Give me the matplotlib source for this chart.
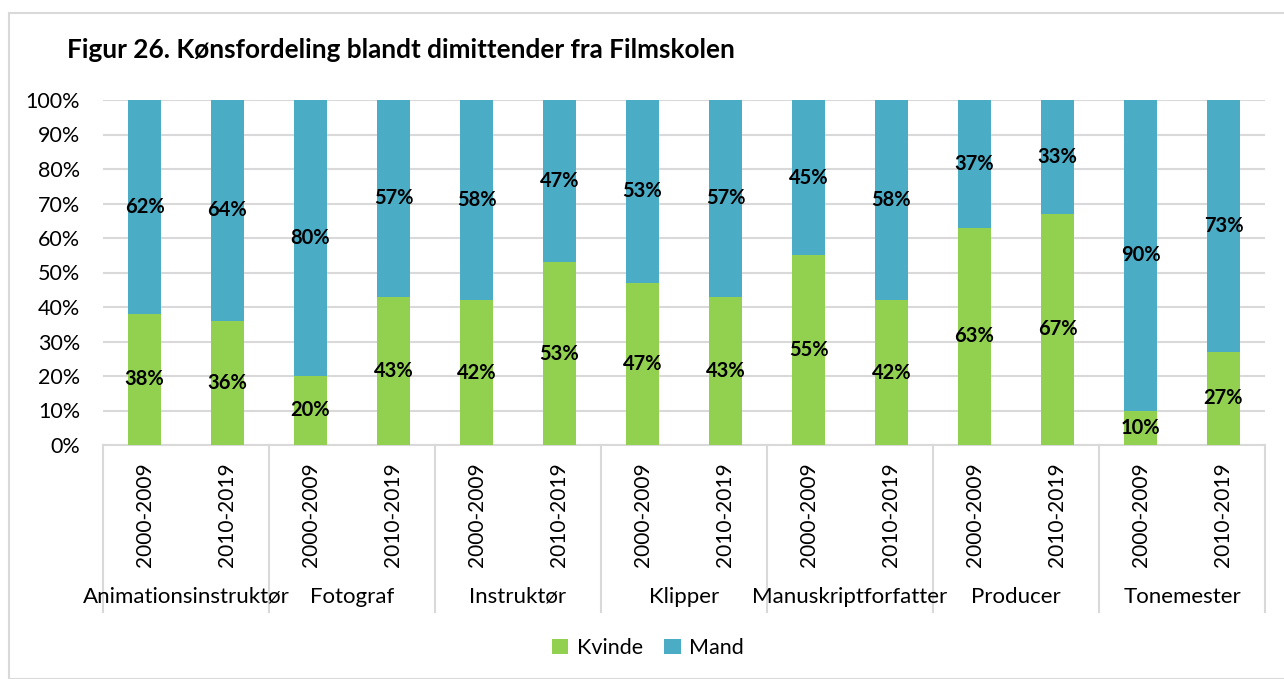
import numpy as np
import matplotlib.pyplot as plt
import matplotlib.transforms as mtransforms
from matplotlib.patches import Rectangle

plt.rcParams['font.family'] = ['Lato', 'DejaVu Sans']

categories = ['Animationsinstruktør', 'Fotograf', 'Instruktør', 'Klipper',
              'Manuskriptforfatter', 'Producer', 'Tonemester']
periods = ['2000-2009', '2010-2019']
kvinde = [38, 36, 20, 43, 42, 53, 47, 43, 55, 42, 63, 67, 10, 27]
mand = [62, 64, 80, 57, 58, 47, 53, 57, 45, 58, 37, 33, 90, 73]

green = '#92D050'
blue = '#4BACC6'
grid_col = '#D9D9D9'

n = len(kvinde)
x = np.arange(n)
kv = np.array(kvinde)
ma = np.array(mand)

fig = plt.figure(figsize=(12.84, 6.79), dpi=100)
fig.patches.append(Rectangle((9 / 1284, 0.0), 1.0, 1 - 13 / 679, transform=fig.transFigure,
                             fill=False, edgecolor=grid_col, lw=1.5))
ax = fig.add_axes((103 / 1284, 1 - 445 / 679, (1265 - 103) / 1284, (445 - 100) / 679))

ax.bar(x, kv, width=0.4, color=green, zorder=3, label='Kvinde')
ax.bar(x, ma, width=0.4, bottom=kv, color=blue, zorder=3, label='Mand')

for i in range(n):
    ax.text(x[i], kv[i] / 2, f'{kvinde[i]}%', ha='center', va='center',
            fontsize=14.5, fontweight='bold', zorder=4)
    ax.text(x[i], kv[i] + ma[i] / 2, f'{mand[i]}%', ha='center', va='center',
            fontsize=14.5, fontweight='bold', zorder=4)

ax.set_xlim(-0.5, n - 0.5)
ax.set_ylim(0, 100)
ax.set_yticks(np.arange(0, 101, 10))
ax.set_yticklabels([f'{v}%' for v in range(0, 101, 10)], fontsize=15.5)
ax.yaxis.grid(True, color=grid_col, lw=1.5, zorder=0)
ax.tick_params(axis='y', length=0, pad=16.5)
ax.set_xticks([])
for s in ['top', 'right', 'left']:
    ax.spines[s].set_visible(False)
ax.spines['bottom'].set_color(grid_col)
ax.spines['bottom'].set_linewidth(1.5)

trans = mtransforms.blended_transform_factory(ax.transData, ax.transAxes)
for k in range(len(categories) + 1):
    xs = -0.5 + 2 * k
    ax.plot([xs, xs], [0, -0.485], transform=trans, color=grid_col, lw=1.5, clip_on=False)

for i in range(n):
    ax.text(x[i], -0.05, periods[i % 2], transform=trans, rotation=90,
            ha='center', va='top', fontsize=15)
for k, c in enumerate(categories):
    ax.text(2 * k + 0.5, -0.44, c, transform=trans, ha='center', va='center', fontsize=16)

fig.text(67 / 1284, 1 - 50 / 679, 'Figur 26. Kønsfordeling blandt dimittender fra Filmskolen',
         fontsize=18.8, fontweight='bold', va='center', ha='left')

fig.legend(loc='center', bbox_to_anchor=(648 / 1284, 1 - 648 / 679), ncol=2, frameon=False,
           fontsize=15.5, handlelength=0.75, handleheight=0.75, columnspacing=1.0, handletextpad=0.4)

fig.savefig('out.png', dpi=100)
